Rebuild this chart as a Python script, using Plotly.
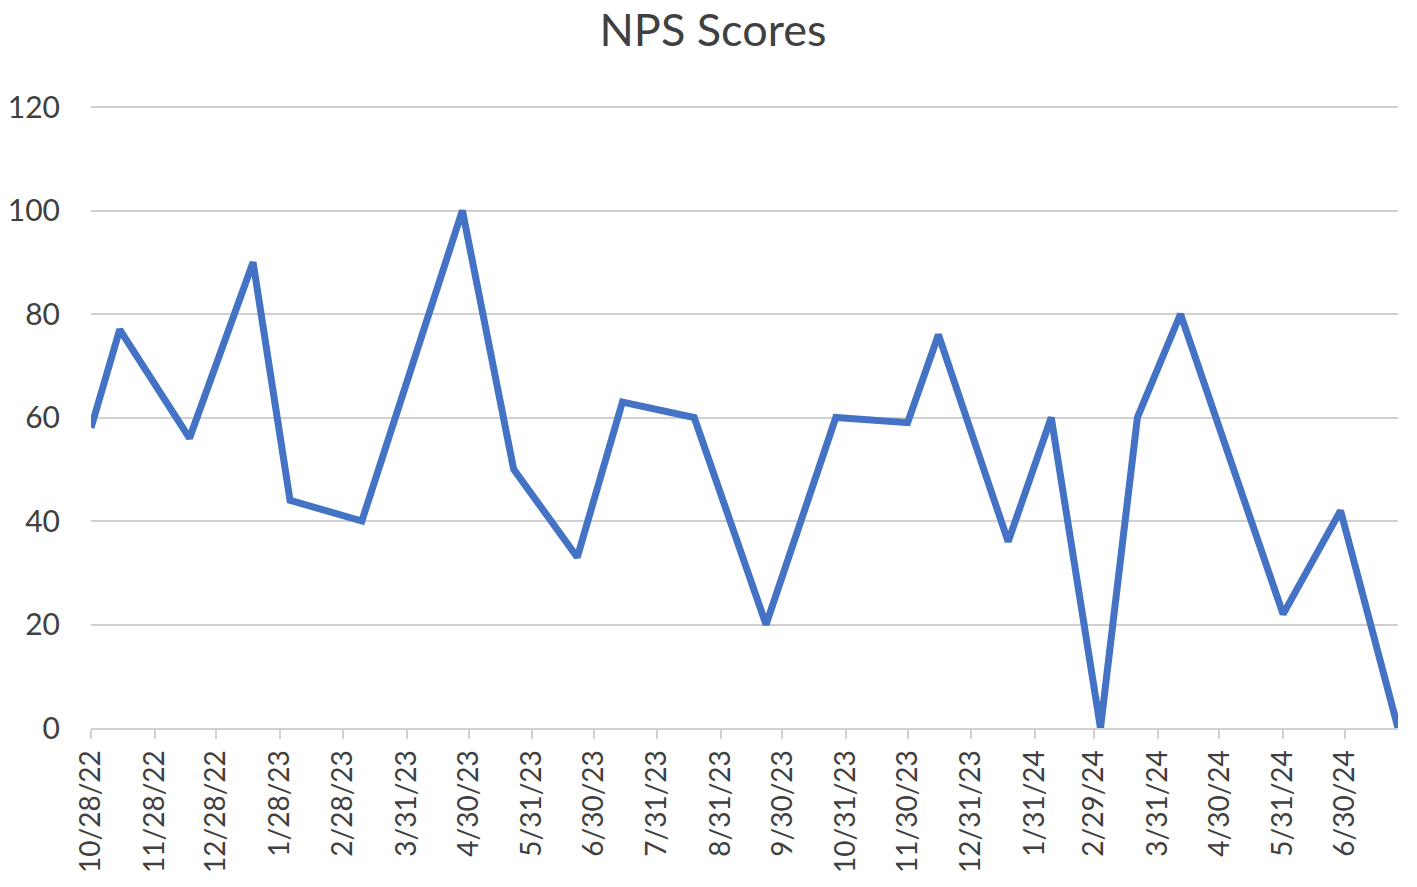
import plotly.graph_objects as go

# survey dates and NPS values
dates = ["2022-10-28", "2022-11-11", "2022-12-15", "2023-01-15", "2023-02-02",
         "2023-03-09", "2023-04-27", "2023-05-22", "2023-06-22", "2023-07-14",
         "2023-08-18", "2023-09-22", "2023-10-26", "2023-11-30", "2023-12-15",
         "2024-01-18", "2024-02-08", "2024-03-03", "2024-03-21", "2024-04-11",
         "2024-05-31", "2024-06-28", "2024-07-26"]
nps = [58, 77, 56, 90, 44,
       40, 100, 50, 33, 63,
       60, 20, 60, 59, 76,
       36, 60, 0, 60, 80,
       22, 42, 0]

# x-axis tick dates and labels
tick_dates = ["2022-10-28", "2022-11-28", "2022-12-28", "2023-01-28", "2023-02-28",
              "2023-03-31", "2023-04-30", "2023-05-31", "2023-06-30", "2023-07-31",
              "2023-08-31", "2023-09-30", "2023-10-31", "2023-11-30", "2023-12-31",
              "2024-01-31", "2024-02-29", "2024-03-31", "2024-04-30", "2024-05-31",
              "2024-06-30"]
tick_labels = ["10/28/22", "11/28/22", "12/28/22", "1/28/23", "2/28/23",
               "3/31/23", "4/30/23", "5/31/23", "6/30/23", "7/31/23",
               "8/31/23", "9/30/23", "10/31/23", "11/30/23", "12/31/23",
               "1/31/24", "2/29/24", "3/31/24", "4/30/24", "5/31/24",
               "6/30/24"]
y_ticks = [0, 20, 40, 60, 80, 100, 120]

fig = go.Figure()

fig.add_trace(go.Scatter(
    x=dates,
    y=nps,
    mode="lines",
    line=dict(color="#4472C4", width=7),
    showlegend=False
))

# the page body adds an 8px offset, so margins are shifted to compensate
fig.update_layout(
    title=dict(text="NPS Scores", x=0.4975, xanchor="center",
               y=0.993, yanchor="top", pad=dict(t=0),
               font=dict(family="Lato", size=45, color="#404040")),
    width=1417,
    height=887,
    margin=dict(l=83, r=27, t=98, b=167),
    paper_bgcolor="white",
    plot_bgcolor="white",
    font=dict(family="Lato", color="#404040")
)

fig.update_xaxes(type="date",
                 range=[dates[0], dates[-1]],
                 tickvals=tick_dates,
                 ticktext=tick_labels,
                 tickangle=-90,
                 automargin=False,
                 showgrid=False,
                 showline=True,
                 linecolor="#D0D0D0",
                 linewidth=2,
                 ticks="outside",
                 ticklen=9,
                 tickwidth=2,
                 tickcolor="#D0D0D0",
                 tickfont=dict(size=28, color="#404040"))

fig.update_yaxes(range=[0, 120.2],
                 tickvals=y_ticks,
                 automargin=False,
                 showgrid=True,
                 gridcolor="#D0D0D0",
                 gridwidth=2,
                 zeroline=False,
                 showline=False,
                 ticklabelstandoff=30,
                 tickfont=dict(size=30, color="#404040"))

fig.write_html("out.html")
